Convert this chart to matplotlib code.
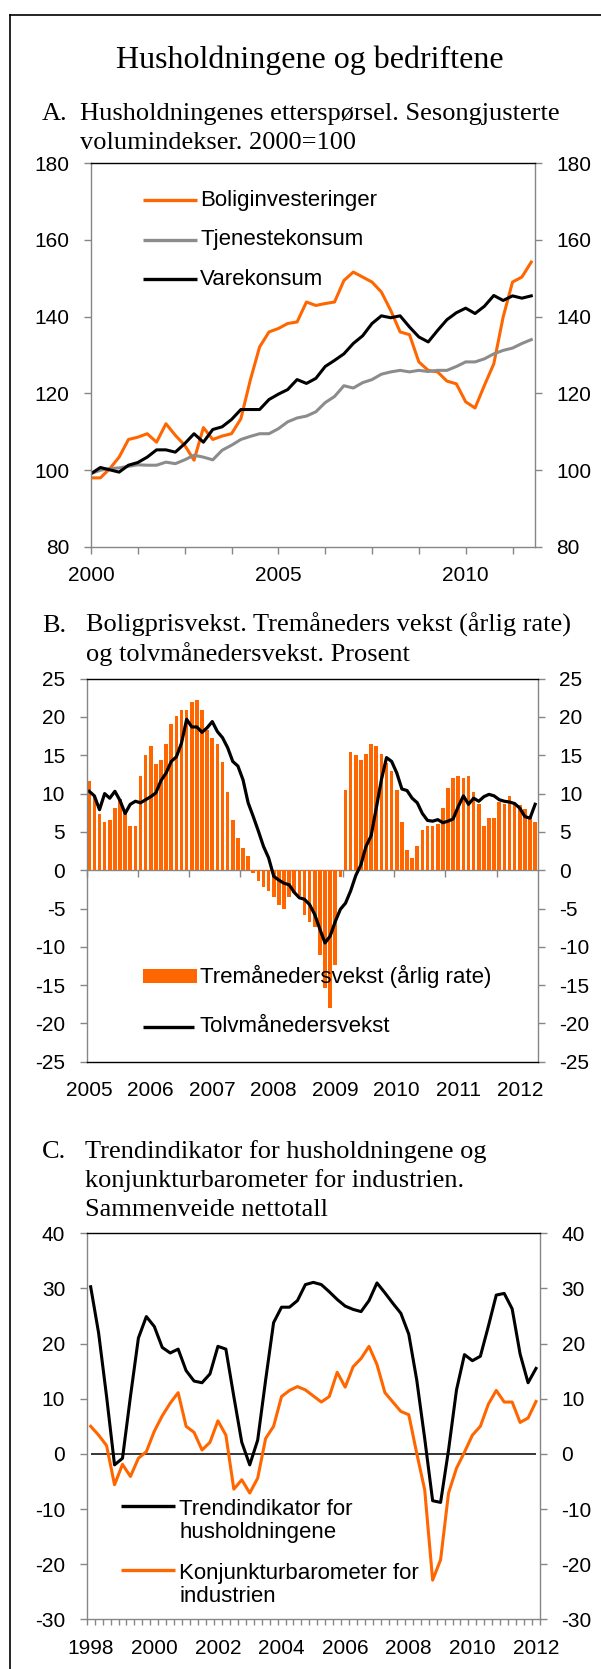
import matplotlib
matplotlib.use('Agg')
import matplotlib.pyplot as plt
from matplotlib.lines import Line2D
from matplotlib.patches import Rectangle
from matplotlib.ticker import NullFormatter
import numpy as np

plt.rcParams['font.family'] = ['Liberation Sans', 'DejaVu Sans']
plt.rcParams['axes.unicode_minus'] = False

W, H = 601, 1669
ORANGE = '#FF6600'
GREY = '#8C8C8C'
AXGREY = '#868686'
SERIF = ['Liberation Serif', 'DejaVu Serif']

# A: kvartalstall 2000K1-2011K4
a_start = 2000
bolig = [98.0, 98.0, 100.4, 103.4, 108.0, 108.6, 109.5, 107.3, 112.1, 109.1,
         106.5, 102.6, 111.1, 108.0, 108.9, 109.5, 113.4, 123.4, 132.1, 136.0,
         136.9, 138.2, 138.6, 143.8, 142.9, 143.4, 143.8, 149.4, 151.6, 150.3,
         149.0, 146.4, 141.6, 136.0, 135.3, 128.2, 126.0, 125.6, 123.2, 122.5,
         117.8, 116.2, 122.1, 127.7, 139.9, 149.0, 150.3, 154.2]
tjeneste = [99.1, 100.0, 100.4, 100.6, 101.0, 101.4, 101.3, 101.3, 102.1, 101.7,
            102.7, 103.9, 103.4, 102.7, 105.2, 106.5, 108.0, 108.8, 109.5, 109.5,
            110.8, 112.6, 113.6, 114.1, 115.2, 117.6, 119.2, 122.0, 121.4, 122.8,
            123.6, 125.0, 125.6, 126.0, 125.6, 126.0, 125.7, 126.0, 126.0, 127.0,
            128.2, 128.2, 129.0, 130.3, 131.2, 131.8, 133.0, 134.0]
vare = [99.1, 100.7, 100.1, 99.5, 101.3, 102.0, 103.4, 105.3, 105.3, 104.7,
        106.9, 109.5, 107.3, 110.6, 111.3, 113.2, 115.8, 115.8, 115.8, 118.4,
        119.8, 121.0, 123.6, 122.6, 123.9, 127.0, 128.6, 130.3, 133.0, 135.0,
        138.2, 140.2, 139.7, 140.2, 137.3, 134.7, 133.4, 136.4, 139.2, 141.0,
        142.2, 140.8, 142.7, 145.5, 144.2, 145.4, 144.8, 145.4]
a_names = ['Boliginvesteringer', 'Tjenestekonsum', 'Varekonsum']
a_xlabels = ['2000', '', '', '', '2005', '', '', '', '2010', '']

# B: månedstall 2005M1-2012M4
tremnd = [11.7, 9.5, 7.4, 6.3, 6.6, 8.1, 9.3, 7.6, 5.8, 5.8,
          12.3, 15.1, 16.2, 13.9, 14.4, 16.5, 19.1, 20.1, 20.9, 20.9,
          21.9, 22.2, 20.9, 18.3, 17.3, 16.5, 14.1, 10.2, 6.6, 4.2,
          2.9, 1.9, -0.35, -1.4, -2.2, -2.7, -3.5, -4.5, -5.0, -3.5,
          -3.0, -3.4, -5.8, -6.7, -7.4, -11.1, -15.4, -18.0, -12.4, -0.9,
          10.5, 15.4, 15.0, 14.4, 15.2, 16.5, 16.2, 15.2, 14.0, 13.0,
          10.5, 6.3, 2.7, 1.6, 3.2, 5.3, 5.8, 5.8, 6.0, 8.1,
          10.7, 12.0, 12.3, 12.0, 12.3, 10.2, 8.7, 5.8, 6.8, 6.8,
          8.9, 8.7, 9.7, 8.8, 8.5, 8.0, 7.0, 6.3]
tolvmnd = [10.3, 9.7, 7.9, 10.0, 9.4, 10.3, 9.1, 7.4, 8.6, 9.0,
           8.8, 9.2, 9.6, 10.1, 11.7, 12.7, 14.2, 14.8, 16.6, 19.7,
           18.7, 18.7, 18.0, 18.6, 19.4, 18.1, 17.3, 16.0, 14.2, 13.6,
           11.8, 8.8, 7.0, 5.1, 3.1, 1.6, -0.8, -1.3, -1.7, -1.9,
           -2.9, -3.6, -3.8, -4.5, -5.8, -7.7, -9.5, -8.6, -6.7, -5.1,
           -4.3, -2.7, -0.7, 0.7, 3.1, 4.5, 8.1, 11.8, 14.7, 14.2,
           12.7, 10.6, 10.4, 9.4, 8.8, 7.4, 6.5, 6.4, 6.6, 6.2,
           6.4, 6.7, 8.3, 9.7, 8.6, 9.4, 9.0, 9.6, 9.9, 9.7,
           9.2, 9.0, 8.9, 8.7, 8.1, 7.0, 6.8, 8.6]
b_names = ['Tremånedersvekst (årlig rate)', 'Tolvmånedersvekst']
b_years = ['2005', '2006', '2007', '2008', '2009', '2010', '2011', '2012']

# C: kvartalstall 1998K1-2012K1
trend = [30.3, 21.9, 10.4, -2.0, -0.8, 10.4, 21.0, 24.9, 23.1, 19.3,
         18.3, 19.0, 15.1, 13.2, 12.9, 14.5, 19.5, 19.0, 10.4, 2.1,
         -2.0, 2.5, 13.4, 23.8, 26.6, 26.6, 27.8, 30.7, 31.1, 30.7,
         29.4, 28.0, 26.8, 26.2, 25.8, 27.8, 31.0, 29.2, 27.3, 25.5,
         21.7, 13.4, 2.8, -8.5, -8.8, 0.7, 11.6, 18.0, 16.9, 17.7,
         23.1, 28.8, 29.1, 26.3, 18.1, 12.9, 15.5]
konj = [5.0, 3.4, 1.5, -5.6, -1.9, -4.1, -0.8, 0.4, 4.1, 6.9,
        9.2, 11.1, 5.0, 3.9, 0.7, 2.1, 6.0, 3.4, -6.4, -4.7,
        -7.1, -4.4, 2.8, 5.0, 10.4, 11.5, 12.2, 11.6, 10.5, 9.4,
        10.4, 14.8, 12.1, 15.8, 17.3, 19.5, 16.2, 11.1, 9.4, 7.7,
        7.1, 0.1, -6.5, -22.9, -19.2, -7.1, -2.6, 0.3, 3.4, 5.0,
        9.0, 11.5, 9.4, 9.4, 5.7, 6.5, 9.5]
c_names = ['Trendindikator for\nhusholdningene', 'Konjunkturbarometer for\nindustrien']
c_years = ['1998', '2000', '2002', '2004', '2006', '2008', '2010', '2012']


def px_axes(fig, left, top, right, bottom):
    return fig.add_axes([left / W, 1 - bottom / H, (right - left) / W, (bottom - top) / H])


def ftext(fig, x, y, s, **kw):
    fig.text(x / W, 1 - y / H, s, **kw)


def style(ax, ylim, ystep, grey_bottom=True):
    for s in ax.spines.values():
        s.set_color('black')
        s.set_linewidth(1.0)
    ax.spines['left'].set_color(AXGREY)
    ax.spines['right'].set_color(AXGREY)
    if grey_bottom:
        ax.spines['bottom'].set_color(AXGREY)
    ax.set_ylim(*ylim)
    ax.set_yticks(np.arange(ylim[0], ylim[1] + ystep, ystep))
    ax.tick_params(axis='y', left=True, right=True, labelleft=True, labelright=True,
                   direction='out', length=5, width=1, color=AXGREY, pad=10.5, labelsize=15)


def key_line(ax, x0, x1, y, color):
    ax.add_line(Line2D([x0, x1], [y, y], transform=ax.transAxes, color=color,
                       lw=2.4, clip_on=False, solid_capstyle='butt'))


def key_text(ax, x, y, s):
    ax.text(x, y, s, transform=ax.transAxes, fontsize=16, va='center', ha='left',
            linespacing=1.1)


fig = plt.figure(figsize=(W / 100, H / 100), dpi=100)

# ytre ramme
fig.add_artist(Line2D([10 / W, 10 / W], [1 - 15 / H, 0], color='black', lw=1.2))
fig.add_artist(Line2D([10 / W, 1], [1 - 15 / H, 1 - 15 / H], color='black', lw=1.2))

ftext(fig, 310, 68, 'Husholdningene og bedriftene', family=SERIF, fontsize=23,
      ha='center', va='baseline')

# ---------- A ----------
ftext(fig, 42, 120, 'A.', family=SERIF, fontsize=19, va='baseline')
ftext(fig, 80, 120, 'Husholdningenes etterspørsel. Sesongjusterte', family=SERIF,
      fontsize=19, va='baseline')
ftext(fig, 80, 149, 'volumindekser. 2000=100', family=SERIF, fontsize=19, va='baseline')

axA = px_axes(fig, 91, 163, 535, 547)
ta = a_start + np.arange(len(bolig)) / 4
axA.plot(ta, bolig, color=ORANGE, lw=2.2)
axA.plot(ta, tjeneste, color=GREY, lw=2.2)
axA.plot(ta, vare, color='black', lw=2.2)
style(axA, (80, 180), 20)
axA.set_xlim(a_start, a_start + 47.4 / 4)
axA.set_xticks(a_start + 1.25 * np.arange(len(a_xlabels)))
axA.set_xticklabels(a_xlabels)
axA.tick_params(axis='x', direction='out', length=5, width=1, color=AXGREY,
                pad=9, labelsize=15)
for k, (name, col) in enumerate(zip(a_names, [ORANGE, GREY, 'black'])):
    y = 0.9036 - k * 0.1033
    key_line(axA, 0.1164, 0.238, y, col)
    key_text(axA, 0.2455, y, name)

# ---------- B ----------
ftext(fig, 42, 632, 'B.', family=SERIF, fontsize=19, va='baseline')
ftext(fig, 86, 632, 'Boligprisvekst. Tremåneders vekst (årlig rate)', family=SERIF,
      fontsize=19, va='baseline')
ftext(fig, 86, 661, 'og tolvmånedersvekst. Prosent', family=SERIF, fontsize=19,
      va='baseline')

axB = px_axes(fig, 86.7, 678.7, 537.7, 1061.7)
xb = np.arange(len(tremnd))
axB.bar(xb, tremnd, width=0.7, color=ORANGE, linewidth=0)
axB.plot(xb, tolvmnd, color='black', lw=2.3)
style(axB, (-25, 25), 5, grey_bottom=False)
axB.set_xlim(-0.5, len(tremnd) - 0.5)
axB.set_xticks(np.arange(len(b_years)) * 12)
axB.set_xticklabels(b_years)
axB.tick_params(axis='x', length=0, pad=14, labelsize=15)
# kategoriaksen ligger på null, med merker nedover hver tiende måned
zero = axB.secondary_xaxis(0.5)
zero.set_alignment('bottom')
zero.spines['bottom'].set_color(AXGREY)
zero.spines['bottom'].set_linewidth(1.0)
zero.set_xticks(np.arange(-0.5, len(tremnd), 10))
zero.xaxis.set_major_formatter(NullFormatter())
zero.tick_params(axis='x', direction='out', length=5, width=1, color=AXGREY)
axB.add_patch(Rectangle((0.1242, 0.2055), 0.1197, 0.0365, transform=axB.transAxes,
                        color=ORANGE, lw=0, clip_on=False))
key_text(axB, 0.2511, 0.222, b_names[0])
key_line(axB, 0.1242, 0.2383, 0.0914, 'black')
key_text(axB, 0.2511, 0.0914, b_names[1])

# ---------- C ----------
ftext(fig, 42, 1158, 'C.', family=SERIF, fontsize=19, va='baseline')
ftext(fig, 85, 1158, 'Trendindikator for husholdningene og', family=SERIF,
      fontsize=19, va='baseline')
ftext(fig, 85, 1187, 'konjunkturbarometer for industrien.', family=SERIF,
      fontsize=19, va='baseline')
ftext(fig, 85, 1216, 'Sammenveide nettotall', family=SERIF, fontsize=19, va='baseline')

axC = px_axes(fig, 86.7, 1233.3, 540, 1619.3)
xc = np.arange(len(trend))
axC.hlines(0, xc[0], xc[-1], color='black', lw=1.1)
axC.plot(xc, konj, color=ORANGE, lw=2.2)
axC.plot(xc, trend, color='black', lw=2.2)
style(axC, (-30, 40), 10)
axC.set_xlim(-0.5, len(trend) - 0.5)
axC.set_xticks(np.arange(len(c_years)) * 8)
axC.set_xticklabels(c_years)
axC.set_xticks(np.arange(-0.5, len(trend), 1), minor=True)
axC.tick_params(axis='x', which='major', length=0, pad=14, labelsize=15)
axC.tick_params(axis='x', which='minor', direction='out', length=4, width=1,
                color=AXGREY)
key_line(axC, 0.0756, 0.1947, 0.2935, 'black')
key_text(axC, 0.2044, 0.2547, c_names[0])
key_line(axC, 0.0756, 0.1947, 0.1285, ORANGE)
key_text(axC, 0.2044, 0.0896, c_names[1])

fig.savefig('out.png', dpi=100)
